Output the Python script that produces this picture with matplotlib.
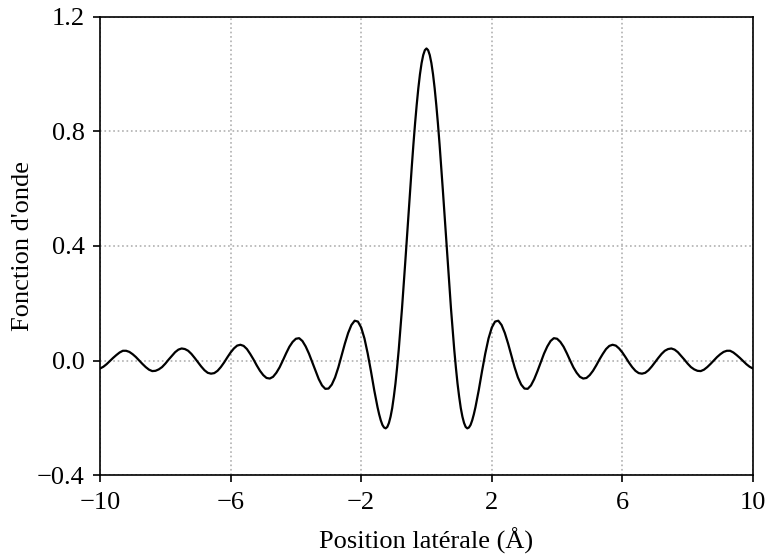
import matplotlib
matplotlib.use("Agg")
import matplotlib.pyplot as plt
import numpy as np

# Lateral position (Å), right half read from the (symmetric) curve
x_half = ([round(0.05 * i, 2) for i in range(31)]
          + [round(1.6 + 0.1 * i, 1) for i in range(85)])
psi_half = [
    1.090, 1.084, 1.067, 1.039, 1.000, 0.951, 0.893, 0.828, 0.756, 0.678,
    0.597, 0.513, 0.428, 0.344, 0.261, 0.182, 0.108, 0.038, -0.024, -0.080,
    -0.126, -0.166, -0.196, -0.218, -0.232, -0.237, -0.234, -0.225, -0.209, -0.188,
    -0.163,
    -0.104, -0.038, 0.024, 0.077,
    0.115, 0.136, 0.139, 0.124, 0.096, 0.059, 0.017, -0.024, -0.059, -0.084,
    -0.098, -0.099, -0.087, -0.065, -0.037, -0.006, 0.024, 0.049, 0.068, 0.078,
    0.076, 0.065, 0.048, 0.025, 0.000, -0.024, -0.043, -0.057, -0.063, -0.061,
    -0.051, -0.036, -0.017, 0.004, 0.023, 0.040, 0.051, 0.055, 0.052, 0.042,
    0.028, 0.011, -0.007, -0.023, -0.036, -0.044, -0.046, -0.043, -0.034, -0.021,
    -0.006, 0.009, 0.023, 0.034, 0.040, 0.042, 0.038, 0.029, 0.016, 0.003,
    -0.011, -0.023, -0.031, -0.036, -0.037, -0.032, -0.023, -0.012, 0.000, 0.012,
    0.022, 0.030, 0.034, 0.034, 0.028, 0.019, 0.009, -0.002, -0.013, -0.022,
    -0.028,
]

xticks = [-10, -6, -2, 2, 6, 10]
yticks = [-0.4, 0.0, 0.4, 0.8, 1.2]

x = np.concatenate([-np.array(x_half[:0:-1]), np.array(x_half)])
psi = np.concatenate([np.array(psi_half[:0:-1]), np.array(psi_half)])

plt.rcParams['font.family'] = ['Liberation Serif', 'DejaVu Serif']
plt.rcParams['axes.unicode_minus'] = True
FS = 19

fig = plt.figure(figsize=(7.67, 5.57), dpi=100)
ax = fig.add_axes([0.1304, 0.1472, 0.8513, 0.8223])
ax.plot(x, psi, color='black', linewidth=1.6)
ax.set_xlim(-10, 10)
ax.set_ylim(-0.4, 1.2)
ax.set_xticks(xticks)
ax.set_yticks(yticks)
ax.set_yticklabels([f"{v:.1f}".replace('-', '\u2212') for v in yticks])
ax.set_xticklabels([str(v).replace('-', '\u2212') for v in xticks])
ax.grid(True, linestyle=':', color='#b0b0b0', linewidth=1.2)
ax.tick_params(direction='out', length=5, width=1.2, labelsize=FS)
ax.tick_params(axis='y', pad=6)
ax.tick_params(axis='x', pad=7)
for s in ax.spines.values():
    s.set_linewidth(1.2)
ax.set_xlabel('Position latérale (Å)', fontsize=FS, labelpad=10)
ax.set_ylabel("Fonction d'onde", fontsize=FS, labelpad=2)
fig.savefig('out.png', dpi=100)
